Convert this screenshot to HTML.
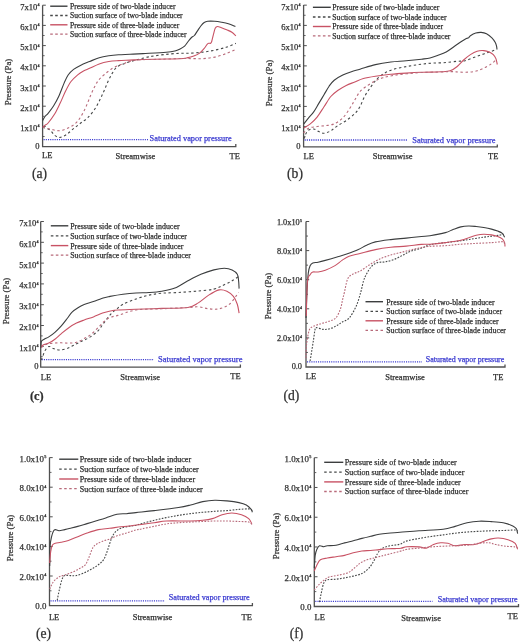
<!DOCTYPE html>
<html><head><meta charset="utf-8"><style>
html,body{margin:0;padding:0;background:#fff;}
body{width:520px;height:642px;position:relative;overflow:hidden;}
div{-webkit-text-stroke:0.25px currentColor;}
sup{font-size:0.48em;vertical-align:0;position:relative;top:-0.85em;margin-left:0.08em;}
</style></head><body>
<div id="wrap" style="position:absolute;left:0;top:0;width:520px;height:642px;filter:blur(0.35px);">
<svg width="520" height="642" viewBox="0 0 520 642" style="position:absolute;left:0;top:0">
<path d="M42.6,5.2 V146.6 H235.8 V144.1" fill="none" stroke="#505050" stroke-width="1.3"/>
<path d="M42.6,126.40 H45.80" stroke="#505050" stroke-width="1"/>
<path d="M42.6,106.20 H45.80" stroke="#505050" stroke-width="1"/>
<path d="M42.6,86.00 H45.80" stroke="#505050" stroke-width="1"/>
<path d="M42.6,65.80 H45.80" stroke="#505050" stroke-width="1"/>
<path d="M42.6,45.60 H45.80" stroke="#505050" stroke-width="1"/>
<path d="M42.6,25.40 H45.80" stroke="#505050" stroke-width="1"/>
<path d="M42.6,5.20 H45.80" stroke="#505050" stroke-width="1"/>
<path d="M42.6,136.50 H44.60" stroke="#505050" stroke-width="0.9"/>
<path d="M42.6,116.30 H44.60" stroke="#505050" stroke-width="0.9"/>
<path d="M42.6,96.10 H44.60" stroke="#505050" stroke-width="0.9"/>
<path d="M42.6,75.90 H44.60" stroke="#505050" stroke-width="0.9"/>
<path d="M42.6,55.70 H44.60" stroke="#505050" stroke-width="0.9"/>
<path d="M42.6,35.50 H44.60" stroke="#505050" stroke-width="0.9"/>
<path d="M42.6,15.30 H44.60" stroke="#505050" stroke-width="0.9"/>
<path d="M43.6,139.7 H148" stroke="#3a3ad0" stroke-width="1.3" stroke-dasharray="1.1 1.1"/>
<path d="M50.2,6.2 H67.5" stroke="#3c3e3f" stroke-width="1.4"/>
<path d="M50.2,15.5 H67.5" stroke="#464848" stroke-width="1.3" stroke-dasharray="2.6 2.4"/>
<path d="M50.2,24.8 H67.5" stroke="#c85264" stroke-width="1.4"/>
<path d="M50.2,34.1 H67.5" stroke="#b86a7a" stroke-width="1.3" stroke-dasharray="2.6 2.4"/>
<path d="M42.70,120.50 C43.08,119.83 44.10,117.70 45.00,116.50 C45.90,115.30 46.68,115.05 48.10,113.30 C49.52,111.55 51.72,108.83 53.50,106.00 C55.28,103.17 57.02,100.15 58.80,96.30 C60.58,92.45 62.62,86.48 64.20,82.90 C65.78,79.32 66.73,77.05 68.30,74.80 C69.87,72.55 71.58,70.97 73.60,69.40 C75.62,67.83 77.73,66.72 80.40,65.40 C83.07,64.08 86.47,62.78 89.60,61.50 C92.73,60.22 96.00,58.65 99.20,57.70 C102.40,56.75 105.58,56.28 108.80,55.80 C112.02,55.32 114.97,55.05 118.50,54.80 C122.03,54.55 125.90,54.50 130.00,54.30 C134.10,54.10 137.07,53.93 143.10,53.60 C149.13,53.27 160.88,52.73 166.20,52.30 C171.52,51.87 172.70,51.55 175.00,51.00 C177.30,50.45 178.40,49.82 180.00,49.00 C181.60,48.18 183.25,47.35 184.60,46.10 C185.95,44.85 186.95,42.93 188.10,41.50 C189.25,40.07 190.45,38.50 191.50,37.50 C192.55,36.50 193.43,36.57 194.40,35.50 C195.37,34.43 196.23,32.68 197.30,31.10 C198.37,29.52 199.65,27.43 200.80,26.00 C201.95,24.57 203.05,23.28 204.20,22.50 C205.35,21.72 205.97,21.50 207.70,21.30 C209.43,21.10 212.30,21.15 214.60,21.30 C216.90,21.45 219.20,21.80 221.50,22.20 C223.80,22.60 226.08,22.98 228.40,23.70 C230.72,24.42 234.23,26.03 235.40,26.50" fill="none" stroke="#3c3e3f" stroke-width="1.1" stroke-linejoin="round"/>
<path d="M42.70,127.30 C43.88,127.73 47.78,128.55 49.80,129.90 C51.82,131.25 53.07,134.15 54.80,135.40 C56.53,136.65 58.18,137.60 60.20,137.40 C62.22,137.20 64.67,135.67 66.90,134.20 C69.13,132.73 71.35,130.42 73.60,128.60 C75.85,126.78 78.08,125.08 80.40,123.30 C82.72,121.52 85.15,120.20 87.50,117.90 C89.85,115.60 92.42,112.57 94.50,109.50 C96.58,106.43 98.42,102.58 100.00,99.50 C101.58,96.42 102.67,94.00 104.00,91.00 C105.33,88.00 106.63,84.43 108.00,81.50 C109.37,78.57 110.78,75.77 112.20,73.40 C113.62,71.03 114.82,68.80 116.50,67.30 C118.18,65.80 120.22,65.28 122.30,64.40 C124.38,63.52 126.68,62.73 129.00,62.00 C131.32,61.27 132.95,60.85 136.20,60.00 C139.45,59.15 143.90,57.80 148.50,56.90 C153.10,56.00 158.68,55.20 163.80,54.60 C168.92,54.00 174.58,53.55 179.20,53.30 C183.82,53.05 187.52,53.30 191.50,53.10 C195.48,52.90 199.25,52.58 203.10,52.10 C206.95,51.62 210.77,51.00 214.60,50.20 C218.43,49.40 222.55,48.45 226.10,47.30 C229.65,46.15 234.27,43.97 235.90,43.30" fill="none" stroke="#464848" stroke-width="1.1" stroke-dasharray="2.4 2.6" stroke-linejoin="round"/>
<path d="M42.70,127.00 C43.08,126.72 44.10,125.97 45.00,125.30 C45.90,124.63 46.47,124.92 48.10,123.00 C49.73,121.08 52.78,117.12 54.80,113.80 C56.82,110.48 58.40,106.90 60.20,103.10 C62.00,99.30 63.80,94.60 65.60,91.00 C67.40,87.40 68.98,84.20 71.00,81.50 C73.02,78.80 75.62,76.55 77.70,74.80 C79.78,73.05 81.52,72.08 83.50,71.00 C85.48,69.92 86.98,69.48 89.60,68.30 C92.22,67.12 96.00,65.03 99.20,63.90 C102.40,62.77 105.58,62.05 108.80,61.50 C112.02,60.95 114.97,60.83 118.50,60.60 C122.03,60.37 125.90,60.28 130.00,60.10 C134.10,59.92 137.07,59.68 143.10,59.50 C149.13,59.32 160.05,59.12 166.20,59.00 C172.35,58.88 176.55,58.98 180.00,58.80 C183.45,58.62 184.60,58.37 186.90,57.90 C189.20,57.43 191.68,56.80 193.80,56.00 C195.92,55.20 197.87,54.37 199.60,53.10 C201.33,51.83 202.95,49.85 204.20,48.40 C205.45,46.95 206.33,45.25 207.10,44.40 C207.87,43.55 208.22,43.48 208.80,43.30 C209.38,43.12 210.12,43.60 210.60,43.30 C211.08,43.00 211.23,42.95 211.70,41.50 C212.17,40.05 212.82,36.80 213.40,34.60 C213.98,32.40 214.52,29.65 215.20,28.30 C215.88,26.95 216.45,26.60 217.50,26.50 C218.55,26.40 219.87,27.12 221.50,27.70 C223.13,28.28 225.57,29.23 227.30,30.00 C229.03,30.77 230.47,31.33 231.90,32.30 C233.33,33.27 235.23,35.22 235.90,35.80" fill="none" stroke="#c85264" stroke-width="1.1" stroke-linejoin="round"/>
<path d="M42.70,127.30 C44.05,127.63 47.88,128.73 50.80,129.30 C53.72,129.87 57.07,131.03 60.20,130.70 C63.33,130.37 66.80,128.77 69.60,127.30 C72.40,125.83 74.85,124.15 77.00,121.90 C79.15,119.65 80.83,116.72 82.50,113.80 C84.17,110.88 85.62,107.53 87.00,104.40 C88.38,101.27 89.55,97.90 90.80,95.00 C92.05,92.10 93.22,89.47 94.50,87.00 C95.78,84.53 96.85,82.28 98.50,80.20 C100.15,78.12 102.20,76.40 104.40,74.50 C106.60,72.60 109.35,70.32 111.70,68.80 C114.05,67.28 116.42,66.28 118.50,65.40 C120.58,64.52 122.45,64.15 124.20,63.50 C125.95,62.85 126.37,62.12 129.00,61.50 C131.63,60.88 134.83,60.17 140.00,59.80 C145.17,59.43 153.33,59.52 160.00,59.30 C166.67,59.08 174.75,58.62 180.00,58.50 C185.25,58.38 187.65,58.58 191.50,58.60 C195.35,58.62 199.25,58.85 203.10,58.60 C206.95,58.35 210.77,57.93 214.60,57.10 C218.43,56.27 222.55,54.88 226.10,53.60 C229.65,52.32 234.27,50.10 235.90,49.40" fill="none" stroke="#b86a7a" stroke-width="1.1" stroke-dasharray="2.4 2.6" stroke-linejoin="round"/>
<path d="M303.6,5.1 V146.9 H497.3 V144.4" fill="none" stroke="#505050" stroke-width="1.3"/>
<path d="M303.6,126.65 H306.80" stroke="#505050" stroke-width="1"/>
<path d="M303.6,106.40 H306.80" stroke="#505050" stroke-width="1"/>
<path d="M303.6,86.15 H306.80" stroke="#505050" stroke-width="1"/>
<path d="M303.6,65.90 H306.80" stroke="#505050" stroke-width="1"/>
<path d="M303.6,45.65 H306.80" stroke="#505050" stroke-width="1"/>
<path d="M303.6,25.40 H306.80" stroke="#505050" stroke-width="1"/>
<path d="M303.6,5.15 H306.80" stroke="#505050" stroke-width="1"/>
<path d="M303.6,136.78 H305.60" stroke="#505050" stroke-width="0.9"/>
<path d="M303.6,116.53 H305.60" stroke="#505050" stroke-width="0.9"/>
<path d="M303.6,96.28 H305.60" stroke="#505050" stroke-width="0.9"/>
<path d="M303.6,76.03 H305.60" stroke="#505050" stroke-width="0.9"/>
<path d="M303.6,55.78 H305.60" stroke="#505050" stroke-width="0.9"/>
<path d="M303.6,35.53 H305.60" stroke="#505050" stroke-width="0.9"/>
<path d="M303.6,15.28 H305.60" stroke="#505050" stroke-width="0.9"/>
<path d="M304.6,140.0 H408" stroke="#3a3ad0" stroke-width="1.3" stroke-dasharray="1.1 1.1"/>
<path d="M312.9,7.3 H330.8" stroke="#3c3e3f" stroke-width="1.4"/>
<path d="M312.9,17.0 H330.8" stroke="#464848" stroke-width="1.3" stroke-dasharray="2.6 2.4"/>
<path d="M312.9,26.5 H330.8" stroke="#c85264" stroke-width="1.4"/>
<path d="M312.9,35.9 H330.8" stroke="#b86a7a" stroke-width="1.3" stroke-dasharray="2.6 2.4"/>
<path d="M303.80,124.00 C304.60,122.98 306.95,119.92 308.60,117.90 C310.25,115.88 312.00,114.32 313.70,111.90 C315.40,109.48 317.08,106.25 318.80,103.40 C320.52,100.55 322.28,97.67 324.00,94.80 C325.72,91.93 327.40,88.63 329.10,86.20 C330.80,83.77 331.92,82.05 334.20,80.20 C336.48,78.35 339.93,76.52 342.80,75.10 C345.67,73.68 348.53,72.68 351.40,71.70 C354.27,70.72 356.00,70.38 360.00,69.20 C364.00,68.02 370.27,65.80 375.40,64.60 C380.53,63.40 385.67,62.63 390.80,62.00 C395.93,61.37 401.08,61.27 406.20,60.80 C411.32,60.33 417.53,59.67 421.50,59.20 C425.47,58.73 427.23,58.65 430.00,58.00 C432.77,57.35 435.40,56.32 438.10,55.30 C440.80,54.28 443.52,53.37 446.20,51.90 C448.88,50.43 451.73,48.18 454.20,46.50 C456.67,44.82 458.98,43.13 461.00,41.80 C463.02,40.47 465.05,39.15 466.30,38.50 C467.55,37.85 467.82,38.35 468.50,37.90 C469.18,37.45 469.18,36.60 470.40,35.80 C471.62,35.00 474.02,33.67 475.80,33.10 C477.58,32.53 479.32,32.30 481.10,32.40 C482.88,32.50 484.70,32.80 486.50,33.70 C488.30,34.60 490.43,36.33 491.90,37.80 C493.37,39.27 494.52,41.05 495.30,42.50 C496.08,43.95 496.32,45.33 496.60,46.50 C496.88,47.67 496.93,49.00 497.00,49.50" fill="none" stroke="#3c3e3f" stroke-width="1.1" stroke-linejoin="round"/>
<path d="M303.60,139.00 C304.28,137.63 306.02,132.47 307.70,130.80 C309.38,129.13 311.85,128.87 313.70,129.00 C315.55,129.13 317.08,130.88 318.80,131.60 C320.52,132.32 322.00,133.43 324.00,133.30 C326.00,133.17 328.52,132.08 330.80,130.80 C333.08,129.52 335.13,127.32 337.70,125.60 C340.27,123.88 343.35,122.50 346.20,120.50 C349.05,118.50 352.52,115.88 354.80,113.60 C357.08,111.32 358.27,109.65 359.90,106.80 C361.53,103.95 362.78,99.82 364.60,96.50 C366.42,93.18 368.75,89.78 370.80,86.90 C372.85,84.02 374.60,81.50 376.90,79.20 C379.20,76.90 381.78,74.77 384.60,73.10 C387.42,71.43 390.20,70.28 393.80,69.20 C397.40,68.12 402.08,67.37 406.20,66.60 C410.32,65.83 414.40,65.17 418.50,64.60 C422.60,64.03 426.63,63.52 430.80,63.20 C434.97,62.88 439.15,63.02 443.50,62.70 C447.85,62.38 453.32,61.63 456.90,61.30 C460.48,60.97 462.08,61.37 465.00,60.70 C467.92,60.03 471.27,58.43 474.40,57.30 C477.53,56.17 480.88,54.92 483.80,53.90 C486.72,52.88 489.77,51.98 491.90,51.20 C494.03,50.42 495.82,49.53 496.60,49.20" fill="none" stroke="#464848" stroke-width="1.1" stroke-dasharray="2.4 2.6" stroke-linejoin="round"/>
<path d="M303.80,128.00 C304.88,127.32 308.08,125.72 310.30,123.90 C312.52,122.08 314.82,119.95 317.10,117.10 C319.38,114.25 321.72,110.23 324.00,106.80 C326.28,103.37 328.52,99.22 330.80,96.50 C333.08,93.78 335.13,92.35 337.70,90.50 C340.27,88.65 343.35,86.82 346.20,85.40 C349.05,83.98 351.93,83.15 354.80,82.00 C357.67,80.85 359.97,79.47 363.40,78.50 C366.83,77.53 370.83,76.90 375.40,76.20 C379.97,75.50 385.67,74.82 390.80,74.30 C395.93,73.78 401.08,73.43 406.20,73.10 C411.32,72.77 415.73,72.52 421.50,72.30 C427.27,72.08 436.02,72.05 440.80,71.80 C445.58,71.55 447.52,71.65 450.20,70.80 C452.88,69.95 454.67,68.50 456.90,66.70 C459.13,64.90 461.35,62.02 463.60,60.00 C465.85,57.98 468.15,56.07 470.40,54.60 C472.65,53.13 474.87,51.87 477.10,51.20 C479.33,50.53 481.78,50.48 483.80,50.60 C485.82,50.72 487.62,51.23 489.20,51.90 C490.78,52.57 492.18,53.48 493.30,54.60 C494.42,55.72 495.23,56.95 495.90,58.60 C496.57,60.25 497.07,63.52 497.30,64.50" fill="none" stroke="#c85264" stroke-width="1.1" stroke-linejoin="round"/>
<path d="M303.60,133.00 C304.43,132.20 306.35,129.28 308.60,128.20 C310.85,127.12 314.25,126.93 317.10,126.50 C319.95,126.07 322.85,126.03 325.70,125.60 C328.55,125.17 331.35,125.18 334.20,123.90 C337.05,122.62 340.22,120.47 342.80,117.90 C345.38,115.33 347.70,111.48 349.70,108.50 C351.70,105.52 353.08,102.83 354.80,100.00 C356.52,97.17 357.85,93.93 360.00,91.50 C362.15,89.07 365.13,87.18 367.70,85.40 C370.27,83.62 372.83,82.08 375.40,80.80 C377.97,79.52 380.03,78.60 383.10,77.70 C386.17,76.80 389.95,76.05 393.80,75.40 C397.65,74.75 401.58,74.28 406.20,73.80 C410.82,73.32 415.87,72.80 421.50,72.50 C427.13,72.20 435.00,72.15 440.00,72.00 C445.00,71.85 448.23,71.58 451.50,71.60 C454.77,71.62 456.68,72.02 459.60,72.10 C462.52,72.18 466.08,72.32 469.00,72.10 C471.92,71.88 474.40,71.58 477.10,70.80 C479.80,70.02 482.73,68.63 485.20,67.40 C487.67,66.17 490.00,64.75 491.90,63.40 C493.80,62.05 495.82,59.98 496.60,59.30" fill="none" stroke="#b86a7a" stroke-width="1.1" stroke-dasharray="2.4 2.6" stroke-linejoin="round"/>
<path d="M40.7,221.5 V367.1 H240.4 V364.6" fill="none" stroke="#505050" stroke-width="1.3"/>
<path d="M40.7,346.30 H43.90" stroke="#505050" stroke-width="1"/>
<path d="M40.7,325.50 H43.90" stroke="#505050" stroke-width="1"/>
<path d="M40.7,304.70 H43.90" stroke="#505050" stroke-width="1"/>
<path d="M40.7,283.90 H43.90" stroke="#505050" stroke-width="1"/>
<path d="M40.7,263.10 H43.90" stroke="#505050" stroke-width="1"/>
<path d="M40.7,242.30 H43.90" stroke="#505050" stroke-width="1"/>
<path d="M40.7,221.50 H43.90" stroke="#505050" stroke-width="1"/>
<path d="M40.7,356.70 H42.70" stroke="#505050" stroke-width="0.9"/>
<path d="M40.7,335.90 H42.70" stroke="#505050" stroke-width="0.9"/>
<path d="M40.7,315.10 H42.70" stroke="#505050" stroke-width="0.9"/>
<path d="M40.7,294.30 H42.70" stroke="#505050" stroke-width="0.9"/>
<path d="M40.7,273.50 H42.70" stroke="#505050" stroke-width="0.9"/>
<path d="M40.7,252.70 H42.70" stroke="#505050" stroke-width="0.9"/>
<path d="M40.7,231.90 H42.70" stroke="#505050" stroke-width="0.9"/>
<path d="M41.7,359.7 H154" stroke="#3a3ad0" stroke-width="1.3" stroke-dasharray="1.1 1.1"/>
<path d="M50.8,225.8 H68.3" stroke="#3c3e3f" stroke-width="1.4"/>
<path d="M50.8,235.8 H68.3" stroke="#464848" stroke-width="1.3" stroke-dasharray="2.6 2.4"/>
<path d="M50.8,245.6 H68.3" stroke="#c85264" stroke-width="1.4"/>
<path d="M50.8,255.2 H68.3" stroke="#b86a7a" stroke-width="1.3" stroke-dasharray="2.6 2.4"/>
<path d="M41.10,348.00 C41.13,346.92 40.78,342.97 41.30,341.50 C41.82,340.03 42.95,339.97 44.20,339.20 C45.45,338.43 47.02,338.05 48.80,336.90 C50.58,335.75 52.85,334.08 54.90,332.30 C56.95,330.52 59.05,328.50 61.10,326.20 C63.15,323.90 65.42,320.82 67.20,318.50 C68.98,316.18 70.00,314.10 71.80,312.30 C73.60,310.50 75.93,308.98 78.00,307.70 C80.07,306.42 81.63,305.63 84.20,304.60 C86.77,303.57 90.07,302.65 93.40,301.50 C96.73,300.35 101.43,298.55 104.20,297.70 C106.97,296.85 106.87,296.97 110.00,296.40 C113.13,295.83 118.67,294.87 123.00,294.30 C127.33,293.73 131.67,293.30 136.00,293.00 C140.33,292.70 144.68,292.80 149.00,292.50 C153.32,292.20 157.58,291.93 161.90,291.20 C166.22,290.47 170.57,289.83 174.90,288.10 C179.23,286.37 183.57,283.10 187.90,280.80 C192.23,278.50 196.57,276.12 200.90,274.30 C205.23,272.48 210.00,270.90 213.90,269.90 C217.80,268.90 221.27,268.30 224.30,268.30 C227.33,268.30 229.93,268.90 232.10,269.90 C234.27,270.90 236.22,272.48 237.30,274.30 C238.38,276.12 238.30,278.42 238.60,280.80 C238.90,283.18 239.02,287.30 239.10,288.60" fill="none" stroke="#3c3e3f" stroke-width="1.1" stroke-linejoin="round"/>
<path d="M41.10,360.00 C41.35,359.48 41.97,358.43 42.60,356.90 C43.23,355.37 43.87,352.53 44.90,350.80 C45.93,349.07 47.38,346.88 48.80,346.50 C50.22,346.12 51.62,347.92 53.40,348.50 C55.18,349.08 57.20,350.00 59.50,350.00 C61.80,350.00 64.63,349.40 67.20,348.50 C69.77,347.60 72.33,345.88 74.90,344.60 C77.47,343.32 80.03,342.08 82.60,340.80 C85.17,339.52 87.73,338.57 90.30,336.90 C92.87,335.23 95.95,332.85 98.00,330.80 C100.05,328.75 101.07,326.65 102.60,324.60 C104.13,322.55 105.67,320.42 107.20,318.50 C108.73,316.58 110.25,314.65 111.80,313.10 C113.35,311.55 114.63,310.68 116.50,309.20 C118.37,307.72 119.75,305.90 123.00,304.20 C126.25,302.50 131.67,300.52 136.00,299.00 C140.33,297.48 144.68,296.07 149.00,295.10 C153.32,294.13 157.15,293.63 161.90,293.20 C166.65,292.77 171.87,292.83 177.50,292.50 C183.13,292.17 189.63,291.77 195.70,291.20 C201.77,290.63 209.13,290.18 213.90,289.10 C218.67,288.02 221.27,286.08 224.30,284.70 C227.33,283.32 229.50,282.32 232.10,280.80 C234.70,279.28 238.60,276.47 239.90,275.60" fill="none" stroke="#464848" stroke-width="1.1" stroke-dasharray="2.4 2.6" stroke-linejoin="round"/>
<path d="M41.10,346.20 C41.62,345.93 42.92,345.12 44.20,344.60 C45.48,344.08 47.02,344.00 48.80,343.10 C50.58,342.20 52.85,340.75 54.90,339.20 C56.95,337.65 58.78,335.72 61.10,333.80 C63.42,331.88 66.23,329.48 68.80,327.70 C71.37,325.92 73.93,324.38 76.50,323.10 C79.07,321.82 81.38,321.03 84.20,320.00 C87.02,318.97 90.33,318.05 93.40,316.90 C96.47,315.75 99.78,314.08 102.60,313.10 C105.42,312.12 107.73,311.52 110.30,311.00 C112.87,310.48 113.72,310.28 118.00,310.00 C122.28,309.72 128.68,309.57 136.00,309.30 C143.32,309.03 153.25,308.70 161.90,308.40 C170.55,308.10 181.83,308.42 187.90,307.50 C193.97,306.58 194.83,304.97 198.30,302.90 C201.77,300.83 205.23,297.27 208.70,295.10 C212.17,292.93 216.07,290.55 219.10,289.90 C222.13,289.25 224.52,290.12 226.90,291.20 C229.28,292.28 231.67,294.23 233.40,296.40 C235.13,298.57 236.35,301.40 237.30,304.20 C238.25,307.00 238.80,311.70 239.10,313.20" fill="none" stroke="#c85264" stroke-width="1.1" stroke-linejoin="round"/>
<path d="M41.10,347.70 C41.87,347.18 43.65,345.37 45.70,344.60 C47.75,343.83 50.83,343.40 53.40,343.10 C55.97,342.80 58.53,342.80 61.10,342.80 C63.67,342.80 66.23,343.18 68.80,343.10 C71.37,343.02 73.93,343.07 76.50,342.30 C79.07,341.53 81.65,339.92 84.20,338.50 C86.75,337.08 89.25,335.85 91.80,333.80 C94.35,331.75 97.18,328.50 99.50,326.20 C101.82,323.90 103.65,321.55 105.70,320.00 C107.75,318.45 109.75,317.67 111.80,316.90 C113.85,316.13 113.97,316.55 118.00,315.40 C122.03,314.25 128.68,311.10 136.00,310.00 C143.32,308.90 153.25,309.22 161.90,308.80 C170.55,308.38 181.83,307.83 187.90,307.50 C193.97,307.17 194.83,306.58 198.30,306.80 C201.77,307.02 205.23,308.47 208.70,308.80 C212.17,309.13 215.63,309.57 219.10,308.80 C222.57,308.03 226.25,306.92 229.50,304.20 C232.75,301.48 237.08,294.45 238.60,292.50" fill="none" stroke="#b86a7a" stroke-width="1.1" stroke-dasharray="2.4 2.6" stroke-linejoin="round"/>
<path d="M306.0,221.5 V367.0 H505.0 V364.5" fill="none" stroke="#505050" stroke-width="1.3"/>
<path d="M306.0,337.90 H309.20" stroke="#505050" stroke-width="1"/>
<path d="M306.0,308.80 H309.20" stroke="#505050" stroke-width="1"/>
<path d="M306.0,279.70 H309.20" stroke="#505050" stroke-width="1"/>
<path d="M306.0,250.60 H309.20" stroke="#505050" stroke-width="1"/>
<path d="M306.0,221.50 H309.20" stroke="#505050" stroke-width="1"/>
<path d="M306.0,352.45 H308.00" stroke="#505050" stroke-width="0.9"/>
<path d="M306.0,323.35 H308.00" stroke="#505050" stroke-width="0.9"/>
<path d="M306.0,294.25 H308.00" stroke="#505050" stroke-width="0.9"/>
<path d="M306.0,265.15 H308.00" stroke="#505050" stroke-width="0.9"/>
<path d="M306.0,236.05 H308.00" stroke="#505050" stroke-width="0.9"/>
<path d="M307.0,361.8 H422" stroke="#3a3ad0" stroke-width="1.3" stroke-dasharray="1.1 1.1"/>
<path d="M365.5,301.7 H383" stroke="#3c3e3f" stroke-width="1.4"/>
<path d="M365.5,311.3 H383" stroke="#464848" stroke-width="1.3" stroke-dasharray="2.5 2.5"/>
<path d="M365.5,320.8 H383" stroke="#c85264" stroke-width="1.4"/>
<path d="M365.5,330.3 H383" stroke="#b86a7a" stroke-width="1.3" stroke-dasharray="2.5 2.5"/>
<path d="M306.00,318.00 C306.17,313.50 306.62,298.50 307.00,291.00 C307.38,283.50 307.78,277.20 308.30,273.00 C308.82,268.80 309.35,267.45 310.10,265.80 C310.85,264.15 311.47,263.70 312.80,263.10 C314.13,262.50 316.02,262.65 318.10,262.20 C320.18,261.75 322.02,261.30 325.30,260.40 C328.58,259.50 334.23,257.87 337.80,256.80 C341.37,255.73 343.27,255.22 346.70,254.00 C350.13,252.78 355.18,250.92 358.40,249.50 C361.62,248.08 363.17,246.77 366.00,245.50 C368.83,244.23 371.27,242.88 375.40,241.90 C379.53,240.92 385.67,240.23 390.80,239.60 C395.93,238.97 401.08,238.62 406.20,238.10 C411.32,237.58 417.53,236.90 421.50,236.50 C425.47,236.10 426.02,236.35 430.00,235.70 C433.98,235.05 441.55,233.63 445.40,232.60 C449.25,231.57 450.53,230.45 453.10,229.50 C455.67,228.55 458.23,227.48 460.80,226.90 C463.37,226.32 465.93,226.07 468.50,226.00 C471.07,225.93 473.65,226.25 476.20,226.50 C478.75,226.75 481.25,227.07 483.80,227.50 C486.35,227.93 489.18,228.50 491.50,229.10 C493.82,229.70 495.90,230.38 497.70,231.10 C499.50,231.82 501.15,232.38 502.30,233.40 C503.45,234.42 504.22,236.57 504.60,237.20" fill="none" stroke="#3c3e3f" stroke-width="1.1" stroke-linejoin="round"/>
<path d="M310.10,361.00 C310.40,359.17 311.32,353.63 311.90,350.00 C312.48,346.37 313.10,342.48 313.60,339.20 C314.10,335.92 314.45,332.23 314.90,330.30 C315.35,328.37 314.87,327.75 316.30,327.60 C317.73,327.45 321.10,329.25 323.50,329.40 C325.90,329.55 328.32,329.25 330.70,328.50 C333.08,327.75 335.92,325.95 337.80,324.90 C339.68,323.85 340.12,323.33 342.00,322.20 C343.88,321.07 346.75,320.73 349.10,318.10 C351.45,315.47 354.17,310.68 356.10,306.40 C358.03,302.12 359.47,296.63 360.70,292.40 C361.93,288.17 362.58,283.95 363.50,281.00 C364.42,278.05 364.98,276.98 366.20,274.70 C367.42,272.42 369.02,269.30 370.80,267.30 C372.58,265.30 374.60,263.60 376.90,262.70 C379.20,261.80 381.78,262.42 384.60,261.90 C387.42,261.38 390.72,260.75 393.80,259.60 C396.88,258.45 400.27,256.40 403.10,255.00 C405.93,253.60 407.73,252.35 410.80,251.20 C413.87,250.05 418.17,249.22 421.50,248.10 C424.83,246.98 426.82,245.42 430.80,244.50 C434.78,243.58 440.40,243.22 445.40,242.60 C450.40,241.98 456.18,241.43 460.80,240.80 C465.42,240.17 469.27,239.40 473.10,238.80 C476.93,238.20 480.73,237.63 483.80,237.20 C486.87,236.77 488.93,236.53 491.50,236.20 C494.07,235.87 497.15,235.53 499.20,235.20 C501.25,234.87 503.03,234.37 503.80,234.20" fill="none" stroke="#464848" stroke-width="1.1" stroke-dasharray="1.7 1.4" stroke-linejoin="round"/>
<path d="M306.30,316.00 C306.48,310.33 306.77,288.88 307.40,282.00 C308.03,275.12 309.20,276.37 310.10,274.70 C311.00,273.03 311.47,272.45 312.80,272.00 C314.13,271.55 316.02,272.30 318.10,272.00 C320.18,271.70 322.48,271.27 325.30,270.20 C328.12,269.13 332.22,267.23 335.00,265.60 C337.78,263.97 339.65,261.97 342.00,260.40 C344.35,258.83 346.10,257.35 349.10,256.20 C352.10,255.05 355.62,254.60 360.00,253.50 C364.38,252.40 370.27,250.63 375.40,249.60 C380.53,248.57 385.67,247.88 390.80,247.30 C395.93,246.72 401.08,246.58 406.20,246.10 C411.32,245.62 417.53,244.72 421.50,244.40 C425.47,244.08 426.02,244.50 430.00,244.20 C433.98,243.90 440.27,243.25 445.40,242.60 C450.53,241.95 456.70,241.20 460.80,240.30 C464.90,239.40 467.43,238.05 470.00,237.20 C472.57,236.35 473.90,235.70 476.20,235.20 C478.50,234.70 481.25,234.25 483.80,234.20 C486.35,234.15 489.18,234.52 491.50,234.90 C493.82,235.28 495.90,235.85 497.70,236.50 C499.50,237.15 501.15,237.78 502.30,238.80 C503.45,239.82 504.15,241.32 504.60,242.60 C505.05,243.88 504.93,245.85 505.00,246.50" fill="none" stroke="#c85264" stroke-width="1.1" stroke-linejoin="round"/>
<path d="M306.00,358.00 C306.08,355.83 305.97,349.62 306.50,345.00 C307.03,340.38 308.15,333.35 309.20,330.30 C310.25,327.25 311.02,327.75 312.80,326.70 C314.58,325.65 317.22,324.90 319.90,324.00 C322.58,323.10 326.22,322.35 328.90,321.30 C331.58,320.25 334.07,319.78 336.00,317.70 C337.93,315.62 339.42,311.75 340.50,308.80 C341.58,305.85 341.85,302.73 342.50,300.00 C343.15,297.27 343.50,296.00 344.40,292.40 C345.30,288.80 346.35,281.52 347.90,278.40 C349.45,275.28 351.68,274.90 353.70,273.70 C355.72,272.50 357.42,272.65 360.00,271.20 C362.58,269.75 366.12,266.93 369.20,265.00 C372.28,263.07 374.90,261.27 378.50,259.60 C382.10,257.93 386.70,256.28 390.80,255.00 C394.90,253.72 399.00,252.93 403.10,251.90 C407.20,250.87 411.30,249.70 415.40,248.80 C419.50,247.90 422.70,247.02 427.70,246.50 C432.70,245.98 439.88,246.08 445.40,245.70 C450.92,245.32 455.67,244.58 460.80,244.20 C465.93,243.82 471.08,243.67 476.20,243.40 C481.32,243.13 487.40,242.87 491.50,242.60 C495.60,242.33 498.75,241.93 500.80,241.80 C502.85,241.67 503.17,241.40 503.80,241.80 C504.43,242.20 504.47,243.80 504.60,244.20" fill="none" stroke="#b86a7a" stroke-width="1.1" stroke-dasharray="1.7 1.4" stroke-linejoin="round"/>
<path d="M49.5,457.6 V605.6 H252.4 V603.1" fill="none" stroke="#505050" stroke-width="1.3"/>
<path d="M49.5,576.00 H52.70" stroke="#505050" stroke-width="1"/>
<path d="M49.5,546.40 H52.70" stroke="#505050" stroke-width="1"/>
<path d="M49.5,516.80 H52.70" stroke="#505050" stroke-width="1"/>
<path d="M49.5,487.20 H52.70" stroke="#505050" stroke-width="1"/>
<path d="M49.5,457.60 H52.70" stroke="#505050" stroke-width="1"/>
<path d="M49.5,590.80 H51.50" stroke="#505050" stroke-width="0.9"/>
<path d="M49.5,561.20 H51.50" stroke="#505050" stroke-width="0.9"/>
<path d="M49.5,531.60 H51.50" stroke="#505050" stroke-width="0.9"/>
<path d="M49.5,502.00 H51.50" stroke="#505050" stroke-width="0.9"/>
<path d="M49.5,472.40 H51.50" stroke="#505050" stroke-width="0.9"/>
<path d="M50.5,600.8 H165" stroke="#3a3ad0" stroke-width="1.3" stroke-dasharray="1.1 1.1"/>
<path d="M59.2,459.2 H78.3" stroke="#3c3e3f" stroke-width="1.4"/>
<path d="M59.2,469.1 H78.3" stroke="#464848" stroke-width="1.3" stroke-dasharray="2.5 2.5"/>
<path d="M59.2,479.0 H78.3" stroke="#c85264" stroke-width="1.4"/>
<path d="M59.2,488.7 H78.3" stroke="#b86a7a" stroke-width="1.3" stroke-dasharray="2.5 2.5"/>
<path d="M49.70,566.00 C49.77,562.68 49.78,550.98 50.10,546.10 C50.42,541.22 51.03,539.20 51.60,536.70 C52.17,534.20 52.88,532.28 53.50,531.10 C54.12,529.92 54.37,529.67 55.30,529.60 C56.23,529.53 57.53,530.70 59.10,530.70 C60.67,530.70 62.83,530.00 64.70,529.60 C66.57,529.20 68.12,528.83 70.30,528.30 C72.48,527.77 75.00,527.18 77.80,526.40 C80.60,525.62 83.98,524.53 87.10,523.60 C90.22,522.67 93.38,521.73 96.50,520.80 C99.62,519.87 102.38,519.08 105.80,518.00 C109.22,516.92 113.57,515.02 117.00,514.30 C120.43,513.58 123.25,513.98 126.40,513.70 C129.55,513.42 131.27,513.12 135.90,512.60 C140.53,512.08 147.10,511.45 154.20,510.60 C161.30,509.75 172.43,508.43 178.50,507.50 C184.57,506.57 186.57,505.98 190.60,505.00 C194.63,504.02 198.67,502.40 202.70,501.60 C206.73,500.80 210.77,500.32 214.80,500.20 C218.83,500.08 222.87,500.50 226.90,500.90 C230.93,501.30 235.77,501.92 239.00,502.60 C242.23,503.28 244.27,503.87 246.30,505.00 C248.33,506.13 250.18,508.18 251.20,509.40 C252.22,510.62 252.20,511.82 252.40,512.30" fill="none" stroke="#3c3e3f" stroke-width="1.1" stroke-linejoin="round"/>
<path d="M57.20,600.30 C57.52,598.73 58.32,594.33 59.10,590.90 C59.88,587.47 60.97,582.25 61.90,579.70 C62.83,577.15 63.30,576.28 64.70,575.60 C66.10,574.92 68.43,575.60 70.30,575.60 C72.17,575.60 73.72,576.00 75.90,575.60 C78.08,575.20 80.90,574.23 83.40,573.20 C85.90,572.17 88.42,570.80 90.90,569.40 C93.38,568.00 96.13,566.50 98.30,564.80 C100.47,563.10 102.33,561.70 103.90,559.20 C105.47,556.70 106.45,553.23 107.70,549.80 C108.95,546.37 110.15,541.55 111.40,538.60 C112.65,535.65 113.63,533.82 115.20,532.10 C116.77,530.38 118.63,529.25 120.80,528.30 C122.97,527.35 125.83,526.87 128.20,526.40 C130.57,525.93 132.68,525.98 135.00,525.50 C137.32,525.02 138.90,524.37 142.10,523.50 C145.30,522.63 150.17,521.28 154.20,520.30 C158.23,519.32 162.25,518.42 166.30,517.60 C170.35,516.78 174.45,516.07 178.50,515.40 C182.55,514.73 186.57,514.12 190.60,513.60 C194.63,513.08 198.67,512.68 202.70,512.30 C206.73,511.92 210.77,511.58 214.80,511.30 C218.83,511.02 222.87,510.92 226.90,510.60 C230.93,510.28 235.37,509.68 239.00,509.40 C242.63,509.12 246.47,508.70 248.70,508.90 C250.93,509.10 251.78,510.32 252.40,510.60" fill="none" stroke="#464848" stroke-width="1.1" stroke-dasharray="1.7 1.4" stroke-linejoin="round"/>
<path d="M49.70,563.00 C49.87,561.12 50.23,554.68 50.70,551.70 C51.17,548.72 51.73,546.50 52.50,545.10 C53.27,543.70 53.88,543.77 55.30,543.30 C56.72,542.83 58.82,542.77 61.00,542.30 C63.18,541.83 65.60,541.43 68.40,540.50 C71.20,539.57 74.68,537.95 77.80,536.70 C80.92,535.45 83.68,534.18 87.10,533.00 C90.52,531.82 94.55,530.38 98.30,529.60 C102.05,528.82 105.85,528.77 109.60,528.30 C113.35,527.83 117.40,527.18 120.80,526.80 C124.20,526.42 124.43,526.68 130.00,526.00 C135.57,525.32 148.15,523.53 154.20,522.70 C160.25,521.87 160.23,521.28 166.30,521.00 C172.37,520.72 184.53,521.12 190.60,521.00 C196.67,520.88 199.07,520.70 202.70,520.30 C206.33,519.90 209.17,519.53 212.40,518.60 C215.63,517.67 218.87,515.63 222.10,514.70 C225.33,513.77 228.57,513.00 231.80,513.00 C235.03,513.00 238.68,513.77 241.50,514.70 C244.32,515.63 246.97,517.07 248.70,518.60 C250.43,520.13 251.37,523.02 251.90,523.90" fill="none" stroke="#c85264" stroke-width="1.1" stroke-linejoin="round"/>
<path d="M49.70,589.10 C50.33,587.85 51.93,583.63 53.50,581.60 C55.07,579.57 57.23,578.00 59.10,576.90 C60.97,575.80 62.52,575.78 64.70,575.00 C66.88,574.22 69.72,573.28 72.20,572.20 C74.68,571.12 77.42,569.73 79.60,568.50 C81.78,567.27 83.73,566.67 85.30,564.80 C86.87,562.93 87.77,560.12 89.00,557.30 C90.23,554.48 91.45,550.08 92.70,547.90 C93.95,545.72 94.93,545.28 96.50,544.20 C98.07,543.12 99.92,542.27 102.10,541.40 C104.28,540.53 107.12,539.93 109.60,539.00 C112.08,538.07 114.20,536.80 117.00,535.80 C119.80,534.80 123.25,533.97 126.40,533.00 C129.55,532.03 133.28,530.70 135.90,530.00 C138.52,529.30 139.05,529.42 142.10,528.80 C145.15,528.18 150.17,527.12 154.20,526.30 C158.23,525.48 162.25,524.50 166.30,523.90 C170.35,523.30 174.45,523.02 178.50,522.70 C182.55,522.38 186.57,522.20 190.60,522.00 C194.63,521.80 198.67,521.67 202.70,521.50 C206.73,521.33 210.77,521.08 214.80,521.00 C218.83,520.92 222.87,520.92 226.90,521.00 C230.93,521.08 235.37,521.33 239.00,521.50 C242.63,521.67 246.47,521.40 248.70,522.00 C250.93,522.60 251.78,524.58 252.40,525.10" fill="none" stroke="#b86a7a" stroke-width="1.1" stroke-dasharray="1.7 1.4" stroke-linejoin="round"/>
<path d="M314.3,457.7 V606.5 H518.5 V604.0" fill="none" stroke="#505050" stroke-width="1.3"/>
<path d="M314.3,576.74 H317.50" stroke="#505050" stroke-width="1"/>
<path d="M314.3,546.98 H317.50" stroke="#505050" stroke-width="1"/>
<path d="M314.3,517.22 H317.50" stroke="#505050" stroke-width="1"/>
<path d="M314.3,487.46 H317.50" stroke="#505050" stroke-width="1"/>
<path d="M314.3,457.70 H317.50" stroke="#505050" stroke-width="1"/>
<path d="M314.3,591.62 H316.30" stroke="#505050" stroke-width="0.9"/>
<path d="M314.3,561.86 H316.30" stroke="#505050" stroke-width="0.9"/>
<path d="M314.3,532.10 H316.30" stroke="#505050" stroke-width="0.9"/>
<path d="M314.3,502.34 H316.30" stroke="#505050" stroke-width="0.9"/>
<path d="M314.3,472.58 H316.30" stroke="#505050" stroke-width="0.9"/>
<path d="M315.3,601.3 H432.5" stroke="#3a3ad0" stroke-width="1.3" stroke-dasharray="1.1 1.1"/>
<path d="M324.2,462.3 H343.3" stroke="#3c3e3f" stroke-width="1.4"/>
<path d="M324.2,472.2 H343.3" stroke="#464848" stroke-width="1.3" stroke-dasharray="2.5 2.5"/>
<path d="M324.2,481.9 H343.3" stroke="#c85264" stroke-width="1.4"/>
<path d="M324.2,491.5 H343.3" stroke="#b86a7a" stroke-width="1.3" stroke-dasharray="2.5 2.5"/>
<path d="M314.30,568.00 C314.45,565.90 314.77,558.52 315.20,555.40 C315.63,552.28 316.18,550.90 316.90,549.30 C317.62,547.70 318.35,546.23 319.50,545.80 C320.65,545.37 322.50,546.70 323.80,546.70 C325.10,546.70 325.27,546.03 327.30,545.80 C329.33,545.57 333.12,545.78 336.00,545.30 C338.88,544.82 341.72,543.67 344.60,542.90 C347.48,542.13 350.42,541.45 353.30,540.70 C356.18,539.95 359.02,539.13 361.90,538.40 C364.78,537.67 367.72,536.98 370.60,536.30 C373.48,535.62 376.32,534.82 379.20,534.30 C382.08,533.78 384.43,533.53 387.90,533.20 C391.37,532.87 394.82,532.70 400.00,532.30 C405.18,531.90 411.82,531.30 419.00,530.80 C426.18,530.30 437.08,530.03 443.10,529.30 C449.12,528.57 451.10,527.48 455.10,526.40 C459.10,525.32 463.10,523.67 467.10,522.80 C471.10,521.93 475.08,521.40 479.10,521.20 C483.12,521.00 487.18,521.33 491.20,521.60 C495.22,521.87 499.60,522.07 503.20,522.80 C506.80,523.53 510.60,525.00 512.80,526.00 C515.00,527.00 515.60,527.52 516.40,528.80 C517.20,530.08 517.40,532.88 517.60,533.70" fill="none" stroke="#3c3e3f" stroke-width="1.1" stroke-linejoin="round"/>
<path d="M319.50,602.10 C319.78,600.65 320.48,596.58 321.20,593.40 C321.92,590.22 322.78,585.25 323.80,583.00 C324.82,580.75 325.27,580.53 327.30,579.90 C329.33,579.27 333.12,579.53 336.00,579.20 C338.88,578.87 341.72,578.42 344.60,577.90 C347.48,577.38 350.42,576.83 353.30,576.10 C356.18,575.37 359.32,574.80 361.90,573.50 C364.48,572.20 366.78,570.45 368.80,568.30 C370.82,566.15 372.55,563.05 374.00,560.60 C375.45,558.15 376.35,555.48 377.50,553.60 C378.65,551.72 379.47,550.45 380.90,549.30 C382.33,548.15 384.08,547.37 386.10,546.70 C388.12,546.03 390.68,545.72 393.00,545.30 C395.32,544.88 397.67,544.93 400.00,544.20 C402.33,543.47 403.83,541.85 407.00,540.90 C410.17,539.95 414.98,539.23 419.00,538.50 C423.02,537.77 427.08,537.10 431.10,536.50 C435.12,535.90 439.10,535.45 443.10,534.90 C447.10,534.35 451.10,533.68 455.10,533.20 C459.10,532.72 463.10,532.32 467.10,532.00 C471.10,531.68 475.08,531.50 479.10,531.30 C483.12,531.10 487.18,530.93 491.20,530.80 C495.22,530.67 499.20,530.63 503.20,530.50 C507.20,530.37 512.80,529.87 515.20,530.00 C517.60,530.13 517.20,531.08 517.60,531.30" fill="none" stroke="#464848" stroke-width="1.1" stroke-dasharray="1.7 1.4" stroke-linejoin="round"/>
<path d="M314.30,571.00 C314.73,569.98 315.88,566.78 316.90,564.90 C317.92,563.02 318.67,560.85 320.40,559.70 C322.13,558.55 324.70,558.50 327.30,558.00 C329.90,557.50 333.12,557.13 336.00,556.70 C338.88,556.27 341.72,556.05 344.60,555.40 C347.48,554.75 350.42,553.53 353.30,552.80 C356.18,552.07 359.02,551.38 361.90,551.00 C364.78,550.62 367.72,550.73 370.60,550.50 C373.48,550.27 376.32,549.88 379.20,549.60 C382.08,549.32 385.27,548.97 387.90,548.80 C390.53,548.63 392.82,548.70 395.00,548.60 C397.18,548.50 399.00,548.50 401.00,548.20 C403.00,547.90 404.00,547.02 407.00,546.80 C410.00,546.58 415.78,546.68 419.00,546.90 C422.22,547.12 423.88,548.50 426.30,548.10 C428.72,547.70 431.10,545.38 433.50,544.50 C435.90,543.62 438.30,543.00 440.70,542.80 C443.10,542.60 445.50,542.82 447.90,543.30 C450.30,543.78 452.30,545.50 455.10,545.70 C457.90,545.90 461.50,544.70 464.70,544.50 C467.90,544.30 471.10,545.03 474.30,544.50 C477.50,543.97 481.08,542.23 483.90,541.30 C486.72,540.37 488.78,539.45 491.20,538.90 C493.62,538.35 495.60,537.87 498.40,538.00 C501.20,538.13 505.20,538.82 508.00,539.70 C510.80,540.58 513.60,541.70 515.20,543.30 C516.80,544.90 517.20,548.30 517.60,549.30" fill="none" stroke="#c85264" stroke-width="1.1" stroke-linejoin="round"/>
<path d="M314.30,590.00 C315.03,589.13 317.12,586.40 318.70,584.80 C320.28,583.20 322.08,581.70 323.80,580.40 C325.52,579.10 326.68,577.85 329.00,577.00 C331.32,576.15 334.52,576.02 337.70,575.30 C340.88,574.58 345.22,574.00 348.10,572.70 C350.98,571.40 352.98,569.10 355.00,567.50 C357.02,565.90 358.18,564.40 360.20,563.10 C362.22,561.80 364.80,560.55 367.10,559.70 C369.40,558.85 371.70,558.58 374.00,558.00 C376.30,557.42 378.30,556.87 380.90,556.20 C383.50,555.53 386.42,554.82 389.60,554.00 C392.78,553.18 397.10,552.08 400.00,551.30 C402.90,550.52 403.83,549.83 407.00,549.30 C410.17,548.77 414.98,548.50 419.00,548.10 C423.02,547.70 427.08,547.22 431.10,546.90 C435.12,546.58 439.10,546.40 443.10,546.20 C447.10,546.00 451.10,545.87 455.10,545.70 C459.10,545.53 463.10,545.60 467.10,545.20 C471.10,544.80 475.50,543.70 479.10,543.30 C482.70,542.90 485.88,542.60 488.70,542.80 C491.52,543.00 493.18,543.93 496.00,544.50 C498.82,545.07 502.40,545.80 505.60,546.20 C508.80,546.60 513.20,546.58 515.20,546.90 C517.20,547.22 517.20,547.90 517.60,548.10" fill="none" stroke="#b86a7a" stroke-width="1.1" stroke-dasharray="1.7 1.4" stroke-linejoin="round"/>
</svg>
<div style="position:absolute;left:39.6px;top:145.6px;transform:translate(-100%,-50%);font-family:'Liberation Serif', serif;font-size:8.5px;color:#303030;white-space:nowrap;line-height:1;">0</div>
<div style="position:absolute;left:39.6px;top:127.89999999999999px;transform:translate(-100%,-50%);font-family:'Liberation Serif', serif;font-size:8.5px;color:#303030;white-space:nowrap;line-height:1;">1x10<sup>4</sup></div>
<div style="position:absolute;left:39.6px;top:107.69999999999999px;transform:translate(-100%,-50%);font-family:'Liberation Serif', serif;font-size:8.5px;color:#303030;white-space:nowrap;line-height:1;">2x10<sup>4</sup></div>
<div style="position:absolute;left:39.6px;top:87.5px;transform:translate(-100%,-50%);font-family:'Liberation Serif', serif;font-size:8.5px;color:#303030;white-space:nowrap;line-height:1;">3x10<sup>4</sup></div>
<div style="position:absolute;left:39.6px;top:67.3px;transform:translate(-100%,-50%);font-family:'Liberation Serif', serif;font-size:8.5px;color:#303030;white-space:nowrap;line-height:1;">4x10<sup>4</sup></div>
<div style="position:absolute;left:39.6px;top:47.099999999999994px;transform:translate(-100%,-50%);font-family:'Liberation Serif', serif;font-size:8.5px;color:#303030;white-space:nowrap;line-height:1;">5x10<sup>4</sup></div>
<div style="position:absolute;left:39.6px;top:26.900000000000006px;transform:translate(-100%,-50%);font-family:'Liberation Serif', serif;font-size:8.5px;color:#303030;white-space:nowrap;line-height:1;">6x10<sup>4</sup></div>
<div style="position:absolute;left:39.6px;top:6.699999999999989px;transform:translate(-100%,-50%);font-family:'Liberation Serif', serif;font-size:8.5px;color:#303030;white-space:nowrap;line-height:1;">7x10<sup>4</sup></div>
<div style="position:absolute;left:7.8px;top:82.1px;transform:translate(0,-50%);font-family:'Liberation Serif', serif;font-size:8.75px;color:#303030;white-space:nowrap;line-height:1;transform:translate(-50%,-50%) rotate(-90deg);">Pressure (Pa)</div>
<div style="position:absolute;left:42px;top:155.39999999999998px;transform:translate(0,-50%);font-family:'Liberation Serif', serif;font-size:8.5px;color:#303030;white-space:nowrap;line-height:1;">LE</div>
<div style="position:absolute;left:240px;top:155.79999999999998px;transform:translate(-100%,-50%);font-family:'Liberation Serif', serif;font-size:8.5px;color:#303030;white-space:nowrap;line-height:1;">TE</div>
<div style="position:absolute;left:135.4px;top:156.2px;transform:translate(-50%,-50%);font-family:'Liberation Serif', serif;font-size:8.5px;color:#303030;white-space:nowrap;line-height:1;">Streamwise</div>
<div style="position:absolute;left:31.999999999999996px;top:174.2px;transform:translate(0,-50%);font-family:'Liberation Serif', serif;font-size:13.6px;color:#303030;white-space:nowrap;line-height:1;">(a)</div>
<div style="position:absolute;left:149.6px;top:138.70000000000002px;transform:translate(0,-50%);font-family:'Liberation Serif', serif;font-size:8.3px;color:#3a3ad0;white-space:nowrap;line-height:1;">Saturated vapor pressure</div>
<div style="position:absolute;left:70px;top:7.1000000000000005px;transform:translate(0,-50%);font-family:'Liberation Serif', serif;font-size:7.64px;color:#303030;white-space:nowrap;line-height:1;">Pressure side of two-blade inducer</div>
<div style="position:absolute;left:70px;top:16.4px;transform:translate(0,-50%);font-family:'Liberation Serif', serif;font-size:7.64px;color:#303030;white-space:nowrap;line-height:1;">Suction surface of two-blade inducer</div>
<div style="position:absolute;left:70px;top:25.7px;transform:translate(0,-50%);font-family:'Liberation Serif', serif;font-size:7.64px;color:#303030;white-space:nowrap;line-height:1;">Pressure side of three-blade inducer</div>
<div style="position:absolute;left:70px;top:35.0px;transform:translate(0,-50%);font-family:'Liberation Serif', serif;font-size:7.64px;color:#303030;white-space:nowrap;line-height:1;">Suction surface of three-blade inducer</div>
<div style="position:absolute;left:300.6px;top:145.9px;transform:translate(-100%,-50%);font-family:'Liberation Serif', serif;font-size:8.5px;color:#303030;white-space:nowrap;line-height:1;">0</div>
<div style="position:absolute;left:300.6px;top:128.15px;transform:translate(-100%,-50%);font-family:'Liberation Serif', serif;font-size:8.5px;color:#303030;white-space:nowrap;line-height:1;">1x10<sup>4</sup></div>
<div style="position:absolute;left:300.6px;top:107.9px;transform:translate(-100%,-50%);font-family:'Liberation Serif', serif;font-size:8.5px;color:#303030;white-space:nowrap;line-height:1;">2x10<sup>4</sup></div>
<div style="position:absolute;left:300.6px;top:87.65px;transform:translate(-100%,-50%);font-family:'Liberation Serif', serif;font-size:8.5px;color:#303030;white-space:nowrap;line-height:1;">3x10<sup>4</sup></div>
<div style="position:absolute;left:300.6px;top:67.4px;transform:translate(-100%,-50%);font-family:'Liberation Serif', serif;font-size:8.5px;color:#303030;white-space:nowrap;line-height:1;">4x10<sup>4</sup></div>
<div style="position:absolute;left:300.6px;top:47.150000000000006px;transform:translate(-100%,-50%);font-family:'Liberation Serif', serif;font-size:8.5px;color:#303030;white-space:nowrap;line-height:1;">5x10<sup>4</sup></div>
<div style="position:absolute;left:300.6px;top:26.900000000000006px;transform:translate(-100%,-50%);font-family:'Liberation Serif', serif;font-size:8.5px;color:#303030;white-space:nowrap;line-height:1;">6x10<sup>4</sup></div>
<div style="position:absolute;left:300.6px;top:6.650000000000006px;transform:translate(-100%,-50%);font-family:'Liberation Serif', serif;font-size:8.5px;color:#303030;white-space:nowrap;line-height:1;">7x10<sup>4</sup></div>
<div style="position:absolute;left:269.3px;top:82.5px;transform:translate(0,-50%);font-family:'Liberation Serif', serif;font-size:8.75px;color:#303030;white-space:nowrap;line-height:1;transform:translate(-50%,-50%) rotate(-90deg);">Pressure (Pa)</div>
<div style="position:absolute;left:303.6px;top:156.2px;transform:translate(0,-50%);font-family:'Liberation Serif', serif;font-size:8.5px;color:#303030;white-space:nowrap;line-height:1;">LE</div>
<div style="position:absolute;left:498.5px;top:156.2px;transform:translate(-100%,-50%);font-family:'Liberation Serif', serif;font-size:8.5px;color:#303030;white-space:nowrap;line-height:1;">TE</div>
<div style="position:absolute;left:392.7px;top:156.0px;transform:translate(-50%,-50%);font-family:'Liberation Serif', serif;font-size:8.5px;color:#303030;white-space:nowrap;line-height:1;">Streamwise</div>
<div style="position:absolute;left:287.09999999999997px;top:173.5px;transform:translate(0,-50%);font-family:'Liberation Serif', serif;font-size:13.6px;color:#303030;white-space:nowrap;line-height:1;">(b)</div>
<div style="position:absolute;left:412.2px;top:140.0px;transform:translate(0,-50%);font-family:'Liberation Serif', serif;font-size:8.45px;color:#3a3ad0;white-space:nowrap;line-height:1;">Saturated vapor pressure</div>
<div style="position:absolute;left:332.3px;top:8.2px;transform:translate(0,-50%);font-family:'Liberation Serif', serif;font-size:7.74px;color:#303030;white-space:nowrap;line-height:1;">Pressure side of two-blade inducer</div>
<div style="position:absolute;left:332.3px;top:17.9px;transform:translate(0,-50%);font-family:'Liberation Serif', serif;font-size:7.74px;color:#303030;white-space:nowrap;line-height:1;">Suction surface of two-blade inducer</div>
<div style="position:absolute;left:332.3px;top:27.4px;transform:translate(0,-50%);font-family:'Liberation Serif', serif;font-size:7.74px;color:#303030;white-space:nowrap;line-height:1;">Pressure side of three-blade inducer</div>
<div style="position:absolute;left:332.3px;top:36.8px;transform:translate(0,-50%);font-family:'Liberation Serif', serif;font-size:7.74px;color:#303030;white-space:nowrap;line-height:1;">Suction surface of three-blade inducer</div>
<div style="position:absolute;left:38.6px;top:366.1px;transform:translate(-100%,-50%);font-family:'Liberation Serif', serif;font-size:8.5px;color:#303030;white-space:nowrap;line-height:1;">0</div>
<div style="position:absolute;left:38.6px;top:347.8px;transform:translate(-100%,-50%);font-family:'Liberation Serif', serif;font-size:8.5px;color:#303030;white-space:nowrap;line-height:1;">1x10<sup>4</sup></div>
<div style="position:absolute;left:38.6px;top:327.0px;transform:translate(-100%,-50%);font-family:'Liberation Serif', serif;font-size:8.5px;color:#303030;white-space:nowrap;line-height:1;">2x10<sup>4</sup></div>
<div style="position:absolute;left:38.6px;top:306.20000000000005px;transform:translate(-100%,-50%);font-family:'Liberation Serif', serif;font-size:8.5px;color:#303030;white-space:nowrap;line-height:1;">3x10<sup>4</sup></div>
<div style="position:absolute;left:38.6px;top:285.40000000000003px;transform:translate(-100%,-50%);font-family:'Liberation Serif', serif;font-size:8.5px;color:#303030;white-space:nowrap;line-height:1;">4x10<sup>4</sup></div>
<div style="position:absolute;left:38.6px;top:264.6px;transform:translate(-100%,-50%);font-family:'Liberation Serif', serif;font-size:8.5px;color:#303030;white-space:nowrap;line-height:1;">5x10<sup>4</sup></div>
<div style="position:absolute;left:38.6px;top:243.8px;transform:translate(-100%,-50%);font-family:'Liberation Serif', serif;font-size:8.5px;color:#303030;white-space:nowrap;line-height:1;">6x10<sup>4</sup></div>
<div style="position:absolute;left:38.6px;top:223.00000000000003px;transform:translate(-100%,-50%);font-family:'Liberation Serif', serif;font-size:8.5px;color:#303030;white-space:nowrap;line-height:1;">7x10<sup>4</sup></div>
<div style="position:absolute;left:5.5px;top:300.90000000000003px;transform:translate(0,-50%);font-family:'Liberation Serif', serif;font-size:8.75px;color:#303030;white-space:nowrap;line-height:1;transform:translate(-50%,-50%) rotate(-90deg);">Pressure (Pa)</div>
<div style="position:absolute;left:40.8px;top:376.8px;transform:translate(0,-50%);font-family:'Liberation Serif', serif;font-size:8.5px;color:#303030;white-space:nowrap;line-height:1;">LE</div>
<div style="position:absolute;left:240.7px;top:376.4px;transform:translate(-100%,-50%);font-family:'Liberation Serif', serif;font-size:8.5px;color:#303030;white-space:nowrap;line-height:1;">TE</div>
<div style="position:absolute;left:140.2px;top:376.7px;transform:translate(-50%,-50%);font-family:'Liberation Serif', serif;font-size:8.5px;color:#303030;white-space:nowrap;line-height:1;">Streamwise</div>
<div style="position:absolute;left:29.9px;top:395.7px;transform:translate(0,-50%);font-family:'Liberation Serif', serif;font-size:12.4px;color:#303030;white-space:nowrap;line-height:1;font-weight:bold;">(c)</div>
<div style="position:absolute;left:158px;top:358.5px;transform:translate(0,-50%);font-family:'Liberation Serif', serif;font-size:8.55px;color:#3a3ad0;white-space:nowrap;line-height:1;">Saturated vapor pressure</div>
<div style="position:absolute;left:70.2px;top:226.70000000000002px;transform:translate(0,-50%);font-family:'Liberation Serif', serif;font-size:7.92px;color:#303030;white-space:nowrap;line-height:1;">Pressure side of two-blade inducer</div>
<div style="position:absolute;left:70.2px;top:236.70000000000002px;transform:translate(0,-50%);font-family:'Liberation Serif', serif;font-size:7.92px;color:#303030;white-space:nowrap;line-height:1;">Suction surface of two-blade inducer</div>
<div style="position:absolute;left:70.2px;top:246.5px;transform:translate(0,-50%);font-family:'Liberation Serif', serif;font-size:7.92px;color:#303030;white-space:nowrap;line-height:1;">Pressure side of three-blade inducer</div>
<div style="position:absolute;left:70.2px;top:256.09999999999997px;transform:translate(0,-50%);font-family:'Liberation Serif', serif;font-size:7.92px;color:#303030;white-space:nowrap;line-height:1;">Suction surface of three-blade inducer</div>
<div style="position:absolute;left:302px;top:367.0px;transform:translate(-100%,-50%);font-family:'Liberation Serif', serif;font-size:8.3px;color:#303030;white-space:nowrap;line-height:1;">0.0</div>
<div style="position:absolute;left:302px;top:339.4px;transform:translate(-100%,-50%);font-family:'Liberation Serif', serif;font-size:8.3px;color:#303030;white-space:nowrap;line-height:1;">2.0x10<sup>4</sup></div>
<div style="position:absolute;left:302px;top:310.3px;transform:translate(-100%,-50%);font-family:'Liberation Serif', serif;font-size:8.3px;color:#303030;white-space:nowrap;line-height:1;">4.0x10<sup>4</sup></div>
<div style="position:absolute;left:302px;top:281.2px;transform:translate(-100%,-50%);font-family:'Liberation Serif', serif;font-size:8.3px;color:#303030;white-space:nowrap;line-height:1;">6.0x10<sup>4</sup></div>
<div style="position:absolute;left:302px;top:252.1px;transform:translate(-100%,-50%);font-family:'Liberation Serif', serif;font-size:8.3px;color:#303030;white-space:nowrap;line-height:1;">8.0x10<sup>4</sup></div>
<div style="position:absolute;left:302px;top:223.0px;transform:translate(-100%,-50%);font-family:'Liberation Serif', serif;font-size:8.3px;color:#303030;white-space:nowrap;line-height:1;">1.0x10<sup>5</sup></div>
<div style="position:absolute;left:268px;top:296.40000000000003px;transform:translate(0,-50%);font-family:'Liberation Serif', serif;font-size:8.75px;color:#303030;white-space:nowrap;line-height:1;transform:translate(-50%,-50%) rotate(-90deg);">Pressure (Pa)</div>
<div style="position:absolute;left:305.8px;top:376.4px;transform:translate(0,-50%);font-family:'Liberation Serif', serif;font-size:8.5px;color:#303030;white-space:nowrap;line-height:1;">LE</div>
<div style="position:absolute;left:503.5px;top:377.0px;transform:translate(-100%,-50%);font-family:'Liberation Serif', serif;font-size:8.5px;color:#303030;white-space:nowrap;line-height:1;">TE</div>
<div style="position:absolute;left:405px;top:376.7px;transform:translate(-50%,-50%);font-family:'Liberation Serif', serif;font-size:8.5px;color:#303030;white-space:nowrap;line-height:1;">Streamwise</div>
<div style="position:absolute;left:283.5px;top:396.3px;transform:translate(0,-50%);font-family:'Liberation Serif', serif;font-size:13.6px;color:#303030;white-space:nowrap;line-height:1;">(d)</div>
<div style="position:absolute;left:425.8px;top:360.4px;transform:translate(0,-50%);font-family:'Liberation Serif', serif;font-size:7.95px;color:#3a3ad0;white-space:nowrap;line-height:1;">Saturated vapor pressure</div>
<div style="position:absolute;left:386.2px;top:302.59999999999997px;transform:translate(0,-50%);font-family:'Liberation Serif', serif;font-size:7.85px;color:#303030;white-space:nowrap;line-height:1;">Pressure side of two-blade inducer</div>
<div style="position:absolute;left:386.2px;top:312.2px;transform:translate(0,-50%);font-family:'Liberation Serif', serif;font-size:7.85px;color:#303030;white-space:nowrap;line-height:1;">Suction surface of two-blade inducer</div>
<div style="position:absolute;left:386.2px;top:321.7px;transform:translate(0,-50%);font-family:'Liberation Serif', serif;font-size:7.85px;color:#303030;white-space:nowrap;line-height:1;">Pressure side of three-blade inducer</div>
<div style="position:absolute;left:386.2px;top:331.2px;transform:translate(0,-50%);font-family:'Liberation Serif', serif;font-size:7.85px;color:#303030;white-space:nowrap;line-height:1;">Suction surface of three-blade inducer</div>
<div style="position:absolute;left:46.4px;top:605.6px;transform:translate(-100%,-50%);font-family:'Liberation Serif', serif;font-size:8.9px;color:#303030;white-space:nowrap;line-height:1;">0.0</div>
<div style="position:absolute;left:46.4px;top:577.0px;transform:translate(-100%,-50%);font-family:'Liberation Serif', serif;font-size:8.9px;color:#303030;white-space:nowrap;line-height:1;">2.0x10<sup>4</sup></div>
<div style="position:absolute;left:46.4px;top:547.4px;transform:translate(-100%,-50%);font-family:'Liberation Serif', serif;font-size:8.9px;color:#303030;white-space:nowrap;line-height:1;">4.0x10<sup>4</sup></div>
<div style="position:absolute;left:46.4px;top:517.8px;transform:translate(-100%,-50%);font-family:'Liberation Serif', serif;font-size:8.9px;color:#303030;white-space:nowrap;line-height:1;">6.0x10<sup>4</sup></div>
<div style="position:absolute;left:46.4px;top:488.20000000000005px;transform:translate(-100%,-50%);font-family:'Liberation Serif', serif;font-size:8.9px;color:#303030;white-space:nowrap;line-height:1;">8.0x10<sup>4</sup></div>
<div style="position:absolute;left:46.4px;top:458.6px;transform:translate(-100%,-50%);font-family:'Liberation Serif', serif;font-size:8.9px;color:#303030;white-space:nowrap;line-height:1;">1.0x10<sup>5</sup></div>
<div style="position:absolute;left:10px;top:537.8px;transform:translate(0,-50%);font-family:'Liberation Serif', serif;font-size:8.75px;color:#303030;white-space:nowrap;line-height:1;transform:translate(-50%,-50%) rotate(-90deg);">Pressure (Pa)</div>
<div style="position:absolute;left:48.9px;top:616.8000000000001px;transform:translate(0,-50%);font-family:'Liberation Serif', serif;font-size:8.5px;color:#303030;white-space:nowrap;line-height:1;">LE</div>
<div style="position:absolute;left:252px;top:616.5px;transform:translate(-100%,-50%);font-family:'Liberation Serif', serif;font-size:8.5px;color:#303030;white-space:nowrap;line-height:1;">TE</div>
<div style="position:absolute;left:152.5px;top:617.1px;transform:translate(-50%,-50%);font-family:'Liberation Serif', serif;font-size:8.5px;color:#303030;white-space:nowrap;line-height:1;">Streamwise</div>
<div style="position:absolute;left:35.900000000000006px;top:634.3000000000001px;transform:translate(0,-50%);font-family:'Liberation Serif', serif;font-size:13.6px;color:#303030;white-space:nowrap;line-height:1;">(e)</div>
<div style="position:absolute;left:168.8px;top:597.9px;transform:translate(0,-50%);font-family:'Liberation Serif', serif;font-size:8.2px;color:#3a3ad0;white-space:nowrap;line-height:1;">Saturated vapor pressure</div>
<div style="position:absolute;left:79.8px;top:460.09999999999997px;transform:translate(0,-50%);font-family:'Liberation Serif', serif;font-size:8.05px;color:#303030;white-space:nowrap;line-height:1;">Pressure side of two-blade inducer</div>
<div style="position:absolute;left:79.8px;top:470.0px;transform:translate(0,-50%);font-family:'Liberation Serif', serif;font-size:8.05px;color:#303030;white-space:nowrap;line-height:1;">Suction surface of two-blade inducer</div>
<div style="position:absolute;left:79.8px;top:479.9px;transform:translate(0,-50%);font-family:'Liberation Serif', serif;font-size:8.05px;color:#303030;white-space:nowrap;line-height:1;">Pressure side of three-blade inducer</div>
<div style="position:absolute;left:79.8px;top:489.59999999999997px;transform:translate(0,-50%);font-family:'Liberation Serif', serif;font-size:8.05px;color:#303030;white-space:nowrap;line-height:1;">Suction surface of three-blade inducer</div>
<div style="position:absolute;left:311.4px;top:606.5px;transform:translate(-100%,-50%);font-family:'Liberation Serif', serif;font-size:8.9px;color:#303030;white-space:nowrap;line-height:1;">0.0</div>
<div style="position:absolute;left:311.4px;top:577.74px;transform:translate(-100%,-50%);font-family:'Liberation Serif', serif;font-size:8.9px;color:#303030;white-space:nowrap;line-height:1;">2.0x10<sup>4</sup></div>
<div style="position:absolute;left:311.4px;top:547.98px;transform:translate(-100%,-50%);font-family:'Liberation Serif', serif;font-size:8.9px;color:#303030;white-space:nowrap;line-height:1;">4.0x10<sup>4</sup></div>
<div style="position:absolute;left:311.4px;top:518.22px;transform:translate(-100%,-50%);font-family:'Liberation Serif', serif;font-size:8.9px;color:#303030;white-space:nowrap;line-height:1;">6.0x10<sup>4</sup></div>
<div style="position:absolute;left:311.4px;top:488.46px;transform:translate(-100%,-50%);font-family:'Liberation Serif', serif;font-size:8.9px;color:#303030;white-space:nowrap;line-height:1;">8.0x10<sup>4</sup></div>
<div style="position:absolute;left:311.4px;top:458.7px;transform:translate(-100%,-50%);font-family:'Liberation Serif', serif;font-size:8.9px;color:#303030;white-space:nowrap;line-height:1;">1.0x10<sup>5</sup></div>
<div style="position:absolute;left:276.4px;top:536.4px;transform:translate(0,-50%);font-family:'Liberation Serif', serif;font-size:8.75px;color:#303030;white-space:nowrap;line-height:1;transform:translate(-50%,-50%) rotate(-90deg);">Pressure (Pa)</div>
<div style="position:absolute;left:314.6px;top:617.1px;transform:translate(0,-50%);font-family:'Liberation Serif', serif;font-size:8.5px;color:#303030;white-space:nowrap;line-height:1;">LE</div>
<div style="position:absolute;left:518px;top:616.0px;transform:translate(-100%,-50%);font-family:'Liberation Serif', serif;font-size:8.5px;color:#303030;white-space:nowrap;line-height:1;">TE</div>
<div style="position:absolute;left:421.1px;top:617.5px;transform:translate(-50%,-50%);font-family:'Liberation Serif', serif;font-size:8.5px;color:#303030;white-space:nowrap;line-height:1;">Streamwise</div>
<div style="position:absolute;left:289.7px;top:634.3000000000001px;transform:translate(0,-50%);font-family:'Liberation Serif', serif;font-size:13.6px;color:#303030;white-space:nowrap;line-height:1;">(f)</div>
<div style="position:absolute;left:437.7px;top:599.9px;transform:translate(0,-50%);font-family:'Liberation Serif', serif;font-size:8.1px;color:#3a3ad0;white-space:nowrap;line-height:1;">Saturated vapor pressure</div>
<div style="position:absolute;left:344.8px;top:463.2px;transform:translate(0,-50%);font-family:'Liberation Serif', serif;font-size:8.1px;color:#303030;white-space:nowrap;line-height:1;">Pressure side of two-blade inducer</div>
<div style="position:absolute;left:344.8px;top:473.09999999999997px;transform:translate(0,-50%);font-family:'Liberation Serif', serif;font-size:8.1px;color:#303030;white-space:nowrap;line-height:1;">Suction surface of two-blade inducer</div>
<div style="position:absolute;left:344.8px;top:482.79999999999995px;transform:translate(0,-50%);font-family:'Liberation Serif', serif;font-size:8.1px;color:#303030;white-space:nowrap;line-height:1;">Pressure side of three-blade inducer</div>
<div style="position:absolute;left:344.8px;top:492.4px;transform:translate(0,-50%);font-family:'Liberation Serif', serif;font-size:8.1px;color:#303030;white-space:nowrap;line-height:1;">Suction surface of three-blade inducer</div>
</div>
</body></html>
